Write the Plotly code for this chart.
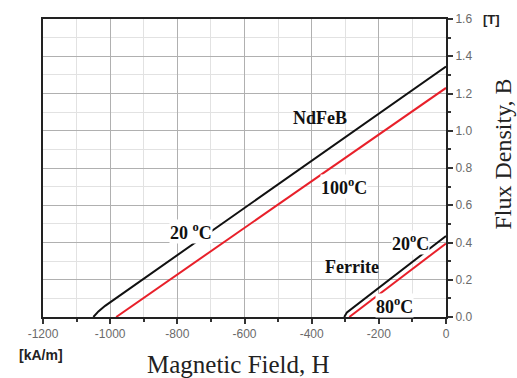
import plotly.graph_objects as go

# NdFeB demagnetization curves (H in kA/m, B in T)
ndfeb20_H = [-1050, -1035, -1015, 0]
ndfeb20_B = [0.0, 0.03, 0.06, 1.345]
ndfeb100_H = [-982, 0]
ndfeb100_B = [0.0, 1.23]
# Ferrite curves
ferrite20_H = [-303, -295, 0]
ferrite20_B = [0.0, 0.025, 0.435]
ferrite80_H = [-288, 0]
ferrite80_B = [0.0, 0.395]

x_ticks = [-1200, -1000, -800, -600, -400, -200, 0]
x_ticklabels = ["-1200", "-1000", "-800", "-600", "-400", "-200", "0"]
y_ticks = [0.0, 0.2, 0.4, 0.6, 0.8, 1.0, 1.2, 1.4, 1.6]
y_ticklabels = ["0.0", "0.2", "0.4", "0.6", "0.8", "1.0", "1.2", "1.4", "1.6"]

BLACK = "#111111"
RED = "#e8202a"

fig = go.Figure()
for H, B, c in [(ndfeb20_H, ndfeb20_B, BLACK), (ndfeb100_H, ndfeb100_B, RED),
                (ferrite20_H, ferrite20_B, BLACK), (ferrite80_H, ferrite80_B, RED)]:
    fig.add_trace(go.Scatter(x=H, y=B, mode="lines", line=dict(color=c, width=2),
                             showlegend=False, hoverinfo="skip"))

lab_font = dict(family="Liberation Serif, Times New Roman, serif", size=18, color="#111111")
labels = [
    ("<b>NdFeB</b>", -376, 1.07, None),
    ("<b>100<sup>o</sup>C</b>", -305, 0.70, "white"),
    ("<b>20 <sup>o</sup>C</b>", -759, 0.457, "white"),
    ("<b>20<sup>o</sup>C</b>", -107, 0.40, "white"),
    ("<b>Ferrite</b>", -281, 0.27, None),
    ("<b>80<sup>o</sup>C</b>", -152, 0.064, "white"),
]
for t, x, y, bg in labels:
    fig.add_annotation(x=x, y=y, text=t, showarrow=False, font=lab_font,
                       xanchor="center", yanchor="middle",
                       bgcolor=bg if bg else "rgba(0,0,0,0)", borderpad=0)

fig.add_annotation(xref="paper", yref="paper", x=0.484, y=-0.16, text="Magnetic Field, H",
                   showarrow=False, xanchor="center", yanchor="middle",
                   font=dict(family="Liberation Serif, Times New Roman, serif", size=25, color="#222"))
fig.add_annotation(xref="paper", yref="paper", x=1.141, y=0.548, text="Flux Density, B",
                   showarrow=False, textangle=-90, xanchor="center", yanchor="middle",
                   font=dict(family="Liberation Serif, Times New Roman, serif", size=24, color="#222"))
fig.add_annotation(xref="paper", yref="paper", x=-0.005, y=-0.126, text="<b>[kA/m]</b>",
                   showarrow=False, xanchor="center", yanchor="middle",
                   font=dict(family="Liberation Sans, Arial, sans-serif", size=14, color="#222"))
fig.add_annotation(xref="paper", yref="paper", x=1.114, y=1.0, text="<b>[T]</b>",
                   showarrow=False, xanchor="center", yanchor="middle",
                   font=dict(family="Liberation Sans, Arial, sans-serif", size=13, color="#222"))

fig.update_xaxes(range=[-1200, 0], tickvals=x_ticks, ticktext=x_ticklabels,
                 ticks="outside", ticklen=5, tickwidth=1.5, tickcolor="#333",
                 tickfont=dict(family="Liberation Sans, Arial, sans-serif", size=12, color="#6a6a6a"),
                 showline=True, linecolor="#222", linewidth=2,
                 mirror=True, showgrid=True, gridcolor="#b0b0b0", gridwidth=1, zeroline=False,
                 minor=dict(dtick=100, ticks="outside", ticklen=3, tickcolor="#333",
                            showgrid=True, gridcolor="#e2e2e2", gridwidth=1))
fig.update_yaxes(range=[0, 1.6], tickvals=y_ticks, ticktext=y_ticklabels, side="right",
                 ticks="outside", ticklen=5, tickwidth=1.5, tickcolor="#333",
                 tickfont=dict(family="Liberation Sans, Arial, sans-serif", size=12, color="#6a6a6a"),
                 showline=True, linecolor="#222", linewidth=2, mirror=True,
                 showgrid=True, gridcolor="#b0b0b0", gridwidth=1, zeroline=False,
                 minor=dict(dtick=0.1, ticks="outside", ticklen=3, tickcolor="#333",
                            showgrid=True, gridcolor="#e2e2e2", gridwidth=1))

fig.update_layout(width=517, height=378, margin=dict(l=43, r=71, t=16, b=61),
                  plot_bgcolor="white", paper_bgcolor="white")
fig.write_html("out.html", config={"displayModeBar": False},
               post_script="document.body.style.margin='0';")
